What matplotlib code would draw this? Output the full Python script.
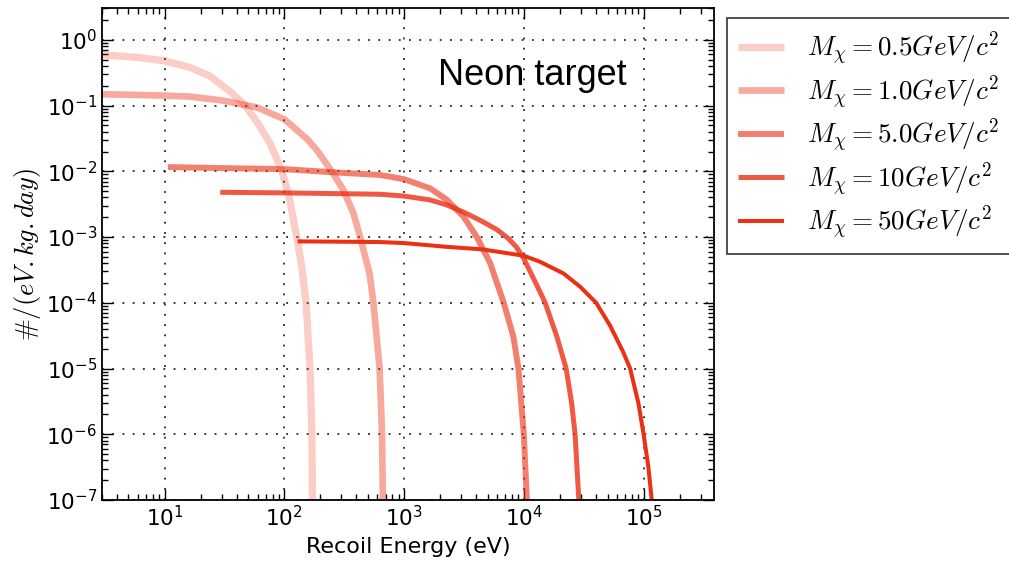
# Neon target recoil spectrum, log-log, 5 WIMP masses
import matplotlib
matplotlib.use('Agg')
import matplotlib.pyplot as plt

plt.rcParams['mathtext.fontset'] = 'cm'
plt.rcParams['font.family'] = 'DejaVu Sans'

# values
e_05 = [3.0, 6, 10, 16.4, 24, 35.3, 47.2, 59, 76.2, 95.5, 110, 127, 140, 152, 164, 170, 172]
r_05 = [0.59, 0.54, 0.48, 0.38, 0.28, 0.164, 0.1, 0.057, 0.0267, 0.01, 4e-3, 1e-3,
        3.5e-4, 1e-4, 1e-5, 1e-6, 1e-7]

e_10 = [3.0, 10, 16.4, 31, 59, 100, 155, 187, 249, 312, 378, 430, 515, 555, 625, 655, 665]
r_10 = [0.149, 0.142, 0.137, 0.119, 0.094, 0.062, 0.031, 0.021, 0.01, 5.2e-3, 2.3e-3,
        1e-3, 2.8e-4, 1e-4, 1e-5, 1e-6, 1e-7]

e_50 = [10.7, 30, 100, 300, 631, 1000, 1652, 2275, 3133, 4055, 5240, 6800, 8180, 9020,
        10000, 10600]
r_50 = [0.0116, 0.0112, 0.0108, 0.0095, 8.8e-3, 7.6e-3, 5.5e-3, 3.7e-3, 2.05e-3, 1e-3,
        4e-4, 1e-4, 3.05e-5, 1e-5, 1e-6, 1e-7]

e_100 = [29.2, 100, 631, 1000, 1652, 2275, 3133, 4315, 5950, 7430, 8700, 10000, 13700,
         15070, 18900, 22560, 25100, 26800, 28800]
r_100 = [4.8e-3, 4.7e-3, 4.48e-3, 4.2e-3, 3.67e-3, 3.08e-3, 2.4e-3, 1.8e-3, 1.3e-3, 9.5e-4,
         7e-4, 4.7e-4, 1.45e-4, 1e-4, 3.05e-5, 1e-5, 2.95e-6, 1e-6, 1e-7]

e_500 = [129, 300, 631, 1000, 2275, 4500, 10000, 13700, 21400, 29500, 40200, 52500, 67800,
         77200, 90600, 100000, 109600, 117000]
r_500 = [8.6e-4, 8.5e-4, 8.4e-4, 8.1e-4, 7.1e-4, 6.5e-4, 5.2e-4, 4.2e-4, 2.8e-4, 1.76e-4,
         1e-4, 4.5e-5, 1.76e-5, 1e-5, 2.95e-6, 1e-6, 3.2e-7, 1e-7]

labels = [r'$M_\chi = 0.5 GeV/c^2$',
          r'$M_\chi = 1.0 GeV/c^2$',
          r'$M_\chi = 5.0 GeV/c^2$',
          r'$M_\chi = 10 GeV/c^2$',
          r'$M_\chi = 50 GeV/c^2$']

xs = [e_05, e_10, e_50, e_100, e_500]
ys = [r_05, r_10, r_50, r_100, r_500]
alphas = [0.24, 0.41, 0.61, 0.8, 1.0]
widths = [5.2, 4.8, 4.3, 3.6, 2.9]
base = '#ec3014'

fig = plt.figure(figsize=(10.09, 5.65), dpi=100)
ax = fig.add_axes([0.101, 0.115, 0.607, 0.870])

for x, y, a, w, lab in zip(xs, ys, alphas, widths, labels):
    ax.plot(x, y, color=base, alpha=a, lw=w, label=lab,
            solid_capstyle='butt', solid_joinstyle='round')

ax.set_xscale('log')
ax.set_yscale('log')
ax.set_xlim(3.0, 3.9e5)
ax.set_ylim(1e-7, 3.0)

ax.grid(True, which='major', color='black', linestyle=(0, (1.2, 5.5)), lw=1.1)
ax.tick_params(which='both', direction='in', top=True, right=True, labelsize=15.5)
ax.tick_params(which='major', length=8, width=1)
ax.tick_params(which='minor', length=4, width=1)
for s in ax.spines.values():
    s.set_linewidth(1.3)

ax.set_xlabel('Recoil Energy (eV)', fontsize=16, labelpad=5)
ax.set_ylabel(r'$\#/(eV.kg.day)$', fontsize=19, labelpad=2)

ax.text(0.548, 0.8435, 'Neon target', transform=ax.transAxes, fontsize=26,
        family='Liberation Sans', ha='left', va='baseline')

leg = fig.legend(loc='upper left', bbox_to_anchor=(727 / 1009, 1 - 18 / 565),
                 fontsize=19.5, frameon=True, fancybox=False, handlelength=1.7,
                 handletextpad=0.85, labelspacing=0.17, borderpad=0.42, borderaxespad=0)
leg.get_frame().set_edgecolor('black')
leg.get_frame().set_linewidth(1.2)

plt.savefig('out.png', dpi=100)
